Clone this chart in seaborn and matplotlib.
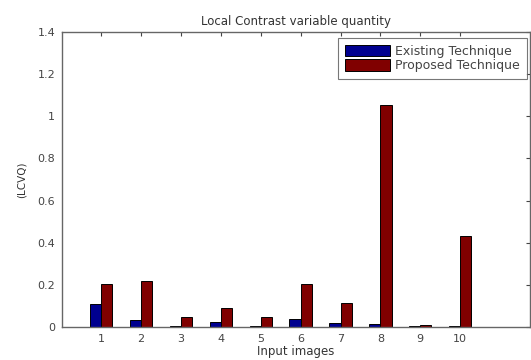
import numpy as np
import pandas as pd
import matplotlib
matplotlib.use("Agg")
import matplotlib.pyplot as plt
import seaborn as sns

images = [1, 2, 3, 4, 5, 6, 7, 8, 9, 10]
existing = [0.108, 0.033, 0.003, 0.022, 0.006, 0.036, 0.020, 0.015, 0.004, 0.003]
proposed = [0.203, 0.220, 0.049, 0.089, 0.049, 0.204, 0.115, 1.055, 0.010, 0.432]
series_names = ["Existing Technique", "Proposed Technique"]
yticks = [0, 0.2, 0.4, 0.6, 0.8, 1, 1.2, 1.4]

df = pd.DataFrame({
    "image": images * 2,
    "value": existing + proposed,
    "technique": [series_names[0]] * len(images) + [series_names[1]] * len(images),
})

sns.set_style("white")
plt.rcParams['font.family'] = ['DejaVu Sans']

fig = plt.figure(figsize=(5.31, 3.6), dpi=100)
ax = fig.add_axes([0.117, 0.092, 0.881, 0.819])

sns.barplot(data=df, x="image", y="value", hue="technique", native_scale=True,
            palette=["#00008F", "#800000"], saturation=1, width=0.56,
            edgecolor="black", linewidth=0.7, ax=ax)

ax.set_xlim(0.02, 11.75)
ax.set_ylim(0, 1.4)
ax.set_xticks(images)
ax.set_xticklabels([str(i) for i in images])
ax.set_yticks(yticks)
ax.set_yticklabels(["0", "0.2", "0.4", "0.6", "0.8", "1", "1.2", "1.4"])
ax.tick_params(direction="in", length=3, width=0.8, colors="#444444",
               labelcolor="#444444", labelsize=8, top=True, right=True, pad=5)
for s in ax.spines.values():
    s.set_visible(True)
    s.set_color("#666666")
    s.set_linewidth(1.0)

ax.set_title("Local Contrast variable quantity", fontsize=8.5, color="#333333", pad=5)
ax.set_xlabel("Input images", fontsize=8.5, color="#333333", labelpad=1)
ax.set_ylabel("(LCVQ)", fontsize=7.5, color="#333333", labelpad=8)

leg = ax.legend(loc="upper left", bbox_to_anchor=(0.590, 0.98), fontsize=9,
                frameon=True, fancybox=False, handlelength=3.6, handleheight=1.05,
                borderaxespad=0, labelspacing=0.1, handletextpad=0.4, borderpad=0.55)
leg.get_frame().set_edgecolor("#555555")
leg.get_frame().set_linewidth(0.8)
for t in leg.get_texts():
    t.set_color("#444444")

fig.savefig("out.png", dpi=100)
